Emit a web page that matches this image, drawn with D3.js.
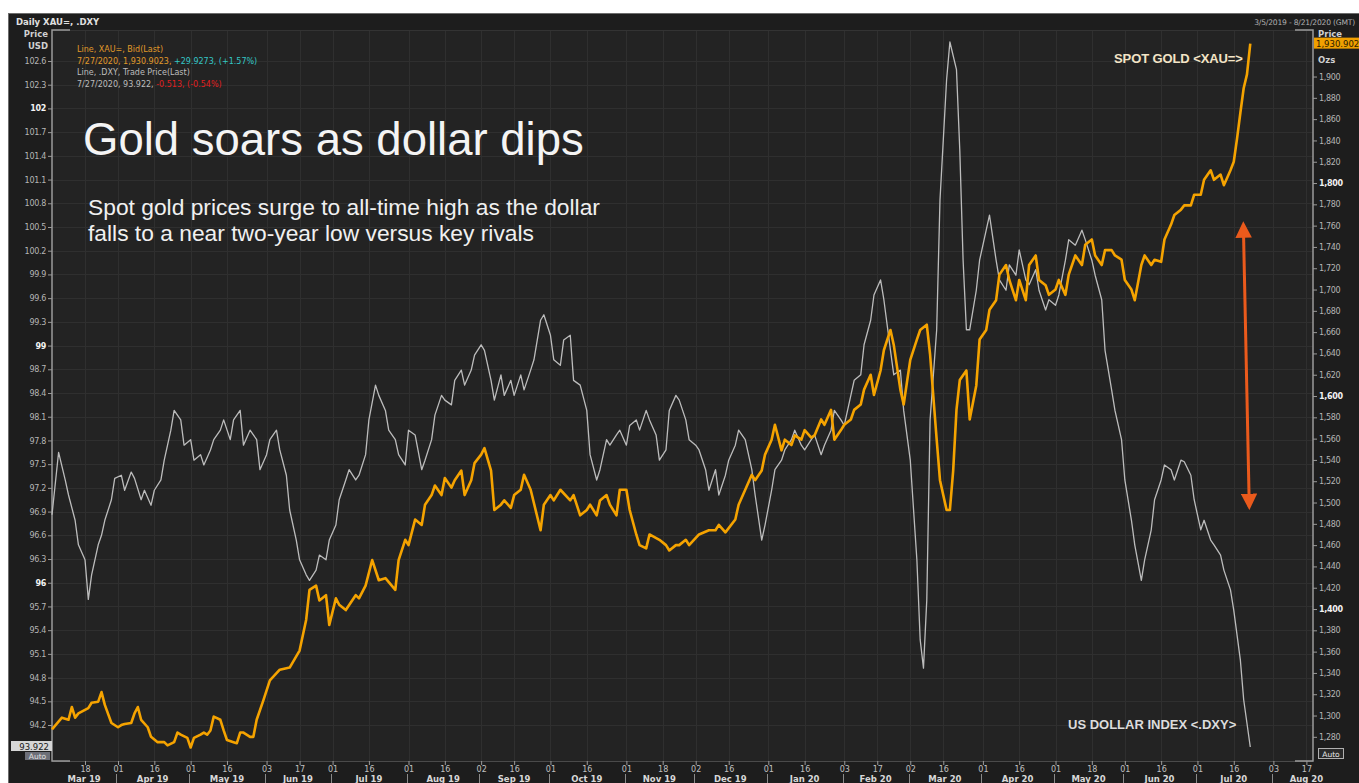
<!DOCTYPE html>
<html>
<head>
<meta charset="utf-8">
<script src="https://cdn.jsdelivr.net/npm/d3@7"></script>
<style>
  html, body { margin: 0; padding: 0; background: #fff; }
  svg { display: block; font-family: "Liberation Sans", Arial, sans-serif; }
</style>
</head>
<body>
<svg id="chart" width="1359" height="783"></svg>
<script>
// x is counted in trading sessions (weekdays) from Mon 2019-03-04
var lastSession = 382; // 2020-08-21

// spot gold, USD/oz  [session, price]
var gold = [[0,1287],[3,1298],[5,1296],[6,1308],[7,1298],[8,1302],[11,1307],[12,1312],[14,1313],[15,1322],[16,1310],[18,1293],[20,1289],[21,1291],[22,1292],[24,1293],[25,1302],[26,1308],[27,1296],[29,1289],[30,1280],[32,1275],[34,1275],[35,1272],[37,1275],[38,1284],[39,1282],[41,1279],[42,1270],[43,1279],[45,1282],[46,1284],[47,1282],[48,1286],[49,1299],[51,1296],[52,1286],[53,1277],[55,1275],[56,1274],[57,1284],[58,1284],[60,1280],[61,1280],[62,1296],[64,1314],[66,1333],[69,1343],[72,1345],[75,1361],[77,1390],[78,1418],[80,1422],[81,1408],[83,1413],[84,1385],[86,1410],[87,1404],[89,1399],[92,1413],[93,1410],[95,1422],[97,1446],[99,1427],[101,1429],[104,1418],[105,1446],[107,1465],[108,1460],[110,1484],[112,1479],[113,1498],[115,1507],[116,1516],[118,1507],[119,1523],[121,1514],[122,1521],[124,1530],[125,1507],[127,1521],[128,1537],[130,1545],[131,1551],[133,1530],[134,1493],[136,1498],[137,1502],[139,1495],[140,1507],[142,1512],[143,1526],[145,1512],[148,1474],[149,1498],[151,1507],[152,1502],[154,1512],[157,1502],[158,1507],[160,1488],[162,1493],[163,1498],[165,1488],[166,1502],[168,1507],[169,1498],[171,1488],[172,1512],[174,1512],[175,1493],[177,1470],[178,1460],[180,1457],[181,1470],[184,1465],[186,1460],[187,1455],[189,1460],[190,1460],[192,1465],[193,1460],[196,1470],[199,1474],[201,1474],[202,1479],[204,1472],[207,1484],[208,1498],[210,1512],[212,1526],[213,1521],[215,1530],[216,1545],[218,1559],[219,1573],[221,1549],[222,1559],[224,1554],[225,1563],[227,1559],[228,1568],[230,1561],[231,1563],[233,1578],[234,1573],[236,1587],[237,1559],[239,1568],[240,1573],[242,1578],[243,1587],[245,1592],[246,1606],[248,1620],[249,1601],[251,1624],[252,1643],[254,1662],[255,1648],[257,1606],[258,1592],[260,1634],[262,1653],[263,1662],[265,1667],[266,1639],[268,1559],[269,1521],[271,1493],[272,1493],[273,1530],[274,1587],[275,1615],[277,1624],[278,1578],[280,1610],[281,1653],[283,1662],[284,1681],[286,1690],[287,1714],[289,1723],[290,1709],[292,1690],[293,1709],[295,1690],[296,1723],[298,1732],[299,1709],[301,1704],[302,1695],[304,1700],[305,1709],[307,1695],[308,1714],[310,1732],[312,1723],[313,1742],[315,1747],[316,1732],[318,1723],[319,1737],[321,1737],[322,1732],[324,1728],[325,1709],[327,1700],[328,1690],[330,1723],[331,1732],[333,1723],[334,1728],[336,1726],[337,1747],[339,1761],[340,1770],[342,1775],[343,1779],[345,1779],[346,1789],[348,1789],[349,1803],[351,1812],[352,1803],[354,1808],[355,1798],[357,1812],[358,1820],[359,1842],[360,1866],[361,1889],[362,1902],[363,1930.9023]];

// US dollar index  [session, level]
var dxy = [[0,96.86],[2,97.65],[4,97.30],[5,97.11],[7,96.79],[8,96.48],[10,96.29],[11,95.79],[12,96.10],[14,96.48],[15,96.60],[16,96.79],[18,97.05],[19,97.32],[21,97.36],[22,97.17],[24,97.40],[25,97.32],[27,97.05],[28,97.17],[30,96.98],[31,97.17],[33,97.30],[34,97.55],[36,97.93],[37,98.18],[39,98.06],[40,97.74],[42,97.81],[43,97.55],[45,97.62],[46,97.49],[48,97.68],[49,97.81],[51,97.93],[52,98.06],[54,97.81],[55,98.06],[57,98.18],[58,97.74],[60,97.93],[62,97.81],[63,97.43],[65,97.62],[66,97.81],[68,97.93],[69,97.68],[71,97.36],[72,96.92],[74,96.54],[75,96.29],[77,96.10],[78,96.03],[80,96.16],[81,96.35],[83,96.29],[84,96.54],[86,96.73],[87,97.05],[89,97.30],[90,97.43],[92,97.30],[93,97.36],[95,97.62],[96,98.06],[98,98.50],[99,98.37],[101,98.18],[102,97.93],[104,97.81],[105,97.62],[107,97.49],[108,97.93],[110,97.87],[112,97.43],[113,97.55],[115,97.81],[116,98.12],[118,98.37],[119,98.31],[121,98.25],[122,98.56],[124,98.69],[125,98.50],[127,98.69],[128,98.88],[130,99.01],[131,98.94],[133,98.56],[134,98.31],[136,98.63],[137,98.37],[139,98.56],[140,98.37],[142,98.63],[143,98.44],[145,98.69],[146,98.82],[148,99.32],[149,99.39],[151,99.13],[152,98.82],[154,98.75],[155,99.07],[157,99.13],[158,98.56],[160,98.50],[162,98.18],[163,97.62],[165,97.30],[166,97.43],[168,97.81],[169,97.74],[171,97.87],[172,97.93],[174,97.74],[175,97.99],[177,98.06],[178,97.93],[180,98.18],[181,98.06],[183,97.87],[184,97.55],[186,97.68],[187,98.18],[189,98.37],[190,98.31],[192,98.06],[193,97.81],[195,97.74],[196,97.68],[198,97.43],[199,97.17],[201,97.43],[202,97.11],[204,97.36],[205,97.55],[207,97.74],[208,97.93],[210,97.81],[212,97.43],[213,97.11],[215,96.54],[216,96.73],[218,97.17],[219,97.43],[221,97.55],[222,97.68],[224,97.81],[225,97.93],[227,97.74],[228,97.68],[230,97.81],[231,97.87],[233,97.62],[234,97.74],[236,97.93],[237,98.18],[239,98.06],[240,97.99],[242,98.37],[243,98.56],[245,98.63],[246,99.01],[248,99.32],[249,99.64],[251,99.83],[252,99.58],[254,98.94],[255,98.63],[257,98.69],[258,98.18],[260,97.55],[262,96.29],[263,95.28],[264,94.92],[265,95.78],[266,98.06],[268,99.20],[269,100.84],[271,102.36],[272,102.84],[274,102.49],[275,101.47],[276,100.08],[277,99.20],[278,99.20],[280,99.70],[281,100.08],[283,100.46],[284,100.65],[286,100.08],[287,99.83],[289,99.70],[290,100.02],[292,99.89],[293,100.21],[295,99.83],[296,99.77],[298,99.96],[299,99.70],[301,99.45],[302,99.58],[304,99.51],[305,99.64],[307,100.08],[308,100.34],[310,100.27],[312,100.46],[313,100.34],[315,100.08],[316,99.89],[318,99.58],[319,98.94],[321,98.44],[322,98.18],[324,97.81],[325,97.30],[327,96.79],[328,96.48],[330,96.03],[331,96.29],[333,96.67],[334,97.05],[336,97.30],[337,97.49],[339,97.43],[340,97.30],[342,97.55],[343,97.53],[345,97.36],[346,97.05],[348,96.67],[349,96.79],[351,96.54],[352,96.48],[354,96.35],[355,96.16],[357,95.91],[358,95.65],[360,95.02],[361,94.52],[363,93.922]];

var dxyTicks = [94.2,94.5,94.8,95.1,95.4,95.7,96,96.3,96.6,96.9,97.2,97.5,97.8,98.1,98.4,98.7,99,99.3,99.6,99.9,100.2,100.5,100.8,101.1,101.4,101.7,102,102.3,102.6];
var dxyBold = [96, 99, 102];
var goldTicks = [1280,1300,1320,1340,1360,1380,1400,1420,1440,1460,1480,1500,1520,1540,1560,1580,1600,1620,1640,1660,1680,1700,1720,1740,1760,1780,1800,1820,1840,1860,1880,1900];
var goldBold = [1400, 1600, 1800];

var dayTicks = ["2019-03-18","2019-04-01","2019-04-16","2019-05-01","2019-05-16","2019-06-03","2019-06-17","2019-07-01","2019-07-16","2019-08-01","2019-08-16","2019-09-02","2019-09-16","2019-10-01","2019-10-16","2019-11-01","2019-11-18","2019-12-02","2019-12-16","2020-01-01","2020-01-16","2020-02-03","2020-02-17","2020-03-02","2020-03-16","2020-04-01","2020-04-16","2020-05-01","2020-05-18","2020-06-01","2020-06-16","2020-07-01","2020-07-16","2020-08-03","2020-08-17"];
var monthStarts = ["2019-03-01","2019-04-01","2019-05-01","2019-06-01","2019-07-01","2019-08-01","2019-09-01","2019-10-01","2019-11-01","2019-12-01","2020-01-01","2020-02-01","2020-03-01","2020-04-01","2020-05-01","2020-06-01","2020-07-01","2020-08-01","2020-09-01"];
var monthLabels = ["Mar 19","Apr 19","May 19","Jun 19","Jul 19","Aug 19","Sep 19","Oct 19","Nov 19","Dec 19","Jan 20","Feb 20","Mar 20","Apr 20","May 20","Jun 20","Jul 20","Aug 20"];

// annotation arrow, in data units (session, gold price)
var arrowEnds = [[360.9, 1761], [362.7, 1496]];

// weekdays from 2019-03-04 up to (not incl.) the date
function sessionOf(s) {
  var t0 = Date.UTC(2019, 2, 4), t = Date.parse(s + "T00:00:00Z"), n = 0;
  for (var d = t0; d < t; d += 864e5) {
    var w = new Date(d).getUTCDay();
    if (w !== 0 && w !== 6) n++;
  }
  return n;
}

var svg = d3.select("#chart");
var plot = {left: 52, right: 1313, top: 30, bottom: 761};
var small = "'DejaVu Sans', sans-serif";

// frame
svg.append("rect").attr("x", 8.5).attr("y", 13.5).attr("width", 1360).attr("height", 780)
  .attr("fill", "#1d1d1d").attr("stroke", "#6c6c6c");
svg.append("rect").attr("x", plot.left).attr("y", plot.top)
  .attr("width", plot.right - plot.left).attr("height", plot.bottom - plot.top)
  .attr("fill", "#232323");

var x = d3.scaleLinear().domain([0, lastSession]).range([plot.left, plot.right]);
var yL = d3.scaleLinear().domain([93.745, 102.992]).range([plot.bottom, plot.top]);
var yR = d3.scaleLinear().domain([1257.3, 1943.7]).range([plot.bottom, plot.top]);

// grid
var grid = svg.append("g").attr("stroke", "#2f2f2f").attr("stroke-width", 1);
grid.selectAll(".h").data(dxyTicks).enter().append("line")
  .attr("x1", plot.left).attr("x2", plot.right)
  .attr("y1", function(d) { return Math.round(yL(d)) + 0.5; })
  .attr("y2", function(d) { return Math.round(yL(d)) + 0.5; });
grid.selectAll(".v").data(dayTicks).enter().append("line")
  .attr("y1", plot.top).attr("y2", plot.bottom)
  .attr("x1", function(d) { return Math.round(x(sessionOf(d))) + 0.5; })
  .attr("x2", function(d) { return Math.round(x(sessionOf(d))) + 0.5; });

// plot borders: bright sides, faint top/bottom with corner marks
var border = svg.append("g").attr("fill", "none");
border.append("line").attr("x1", plot.left).attr("x2", plot.right)
  .attr("y1", plot.bottom + 0.5).attr("y2", plot.bottom + 0.5).attr("stroke", "#4a4a4a");
border.append("line").attr("x1", plot.left).attr("x2", plot.right)
  .attr("y1", plot.top + 0.5).attr("y2", plot.top + 0.5).attr("stroke", "#333");
border.append("path").attr("stroke", "#9a9a9a").attr("stroke-width", 1.5)
  .attr("d", "M" + (plot.left + 18) + "," + plot.top + "H" + plot.left + "V" + plot.bottom + "H" + (plot.left + 18));
border.append("path").attr("stroke", "#9a9a9a").attr("stroke-width", 1.5)
  .attr("d", "M" + (plot.right - 18) + "," + plot.top + "H" + plot.right + "V" + plot.bottom + "H" + (plot.right - 18));

// left axis (DXY)
var left = svg.append("g").attr("transform", "translate(" + plot.left + ",0)");
left.call(d3.axisLeft(yL).tickValues(dxyTicks).tickSize(4).tickPadding(2)
  .tickFormat(function(d) { return String(+d.toFixed(1)); }));
left.select(".domain").remove();
left.selectAll(".tick line").attr("stroke", "#9a9a9a");
left.selectAll(".tick text")
  .attr("fill", function(d) { return dxyBold.indexOf(d) >= 0 ? "#f2f2f2" : "#b5b5b5"; })
  .attr("font-weight", function(d) { return dxyBold.indexOf(d) >= 0 ? "bold" : "normal"; })
  .style("font-size", "8px").style("font-family", small).attr("letter-spacing", "-0.3");

// right axis (gold)
var right = svg.append("g").attr("transform", "translate(" + plot.right + ",0)");
right.call(d3.axisRight(yR).tickValues(goldTicks).tickSize(4).tickPadding(2).tickFormat(d3.format(",")));
right.select(".domain").remove();
right.selectAll(".tick line").attr("stroke", "#9a9a9a");
right.selectAll(".tick text")
  .attr("fill", function(d) { return goldBold.indexOf(d) >= 0 ? "#f2f2f2" : "#b5b5b5"; })
  .attr("font-weight", function(d) { return goldBold.indexOf(d) >= 0 ? "bold" : "normal"; })
  .style("font-size", "8px").style("font-family", small).attr("letter-spacing", "-0.3");

// bottom axis: day ticks
var bottom = svg.append("g").attr("transform", "translate(0," + plot.bottom + ")");
bottom.call(d3.axisBottom(x).tickValues(dayTicks.map(sessionOf)).tickSize(4).tickPadding(1)
  .tickFormat(function(d, i) { return dayTicks[i].slice(8); }));
bottom.select(".domain").remove();
bottom.selectAll(".tick line").attr("stroke", "#9a9a9a");
bottom.selectAll(".tick text").attr("fill", "#c0c0c0")
  .style("font-size", "8px").style("font-family", small);

// month row
var mx = monthStarts.map(function(s) { return x(sessionOf(s) - 0.5); });
var months = svg.append("g");
months.selectAll("line").data(mx.slice(1, -1)).enter().append("line")
  .attr("x1", function(d) { return Math.round(d) + 0.5; })
  .attr("x2", function(d) { return Math.round(d) + 0.5; })
  .attr("y1", 774).attr("y2", 783).attr("stroke", "#8a8a8a");
months.selectAll("text").data(monthLabels).enter().append("text")
  .attr("x", function(d, i) { return (Math.max(mx[i], plot.left) + mx[i + 1]) / 2; })
  .attr("y", 782).attr("text-anchor", "middle")
  .attr("fill", "#d8d8d8").attr("font-weight", "bold")
  .style("font-size", "8.5px").style("font-family", small)
  .text(function(d) { return d; });

// lines
var lineL = d3.line().x(function(d) { return x(d[0]); }).y(function(d) { return yL(d[1]); });
var lineR = d3.line().x(function(d) { return x(d[0]); }).y(function(d) { return yR(d[1]); });
svg.append("path").datum(dxy).attr("d", lineL)
  .attr("fill", "none").attr("stroke", "#bcbcbc").attr("stroke-width", 1.3).attr("stroke-linejoin", "round");
svg.append("path").datum(gold).attr("d", lineR)
  .attr("fill", "none").attr("stroke", "#f5a300").attr("stroke-width", 2.6).attr("stroke-linejoin", "round");

// arrow
var defs = svg.append("defs");
defs.append("marker").attr("id", "head").attr("viewBox", "0 0 10 10")
  .attr("refX", 8).attr("refY", 5).attr("markerWidth", 5.5).attr("markerHeight", 5.5)
  .attr("markerUnits", "strokeWidth").attr("orient", "auto-start-reverse")
  .append("path").attr("d", "M0,0L10,5L0,10Z").attr("fill", "#ea5a1c");
svg.append("line")
  .attr("x1", x(arrowEnds[0][0])).attr("y1", yR(arrowEnds[0][1]))
  .attr("x2", x(arrowEnds[1][0])).attr("y2", yR(arrowEnds[1][1]))
  .attr("stroke", "#ea5a1c").attr("stroke-width", 3)
  .attr("marker-start", "url(#head)").attr("marker-end", "url(#head)");

// texts
svg.append("text").attr("x", 16).attr("y", 25).attr("fill", "#e0e0e0").attr("font-weight", "bold")
  .style("font-size", "8.5px").style("font-family", small).text("Daily XAU=, .DXY");
svg.append("text").attr("x", 1355).attr("y", 25).attr("text-anchor", "end").attr("fill", "#b0b0b0")
  .style("font-size", "7.6px").style("font-family", small).attr("letter-spacing", "-0.2").text("3/5/2019 - 8/21/2020 (GMT)");
svg.append("text").attr("x", 48).attr("y", 37).attr("text-anchor", "end").attr("fill", "#d0d0d0").attr("font-weight", "bold")
  .style("font-size", "8.5px").style("font-family", small).text("Price");
svg.append("text").attr("x", 48).attr("y", 49).attr("text-anchor", "end").attr("fill", "#d0d0d0").attr("font-weight", "bold")
  .style("font-size", "8.5px").style("font-family", small).text("USD");
svg.append("text").attr("x", 1318).attr("y", 37).attr("fill", "#d0d0d0").attr("font-weight", "bold")
  .style("font-size", "8.5px").style("font-family", small).text("Price");
svg.append("text").attr("x", 1318).attr("y", 63).attr("fill", "#d0d0d0").attr("font-weight", "bold")
  .style("font-size", "8.5px").style("font-family", small).text("Ozs");

// last-value boxes
var lastGold = gold[gold.length - 1][1], lastDxy = dxy[dxy.length - 1][1];
svg.append("rect").attr("x", 1314).attr("y", yR(lastGold) - 6).attr("width", 46).attr("height", 11).attr("fill", "#f0a000");
svg.append("text").attr("x", 1316).attr("y", yR(lastGold) + 3).attr("fill", "#2a1a00")
  .style("font-size", "8.5px").style("font-family", small).text(d3.format(",.3f")(lastGold));
svg.append("rect").attr("x", 11).attr("y", yL(lastDxy) - 6).attr("width", 41).attr("height", 10).attr("fill", "#d6d6d6");
svg.append("text").attr("x", 49).attr("y", yL(lastDxy) + 2.5).attr("text-anchor", "end").attr("fill", "#1a1a1a")
  .style("font-size", "8.5px").style("font-family", small).text(String(lastDxy));
svg.append("rect").attr("x", 25).attr("y", 752).attr("width", 25).attr("height", 8).attr("fill", "#6d6f78");
svg.append("text").attr("x", 37.5).attr("y", 759).attr("text-anchor", "middle").attr("fill", "#e0e0e0")
  .style("font-size", "7.5px").style("font-family", small).text("Auto");
svg.append("rect").attr("x", 1318.5).attr("y", 748.5).attr("width", 25).attr("height", 10)
  .attr("fill", "#2a2a2a").attr("stroke", "#b0b0b0");
svg.append("text").attr("x", 1331).attr("y", 756.5).attr("text-anchor", "middle").attr("fill", "#e8e8e8")
  .style("font-size", "7.5px").style("font-family", small).text("Auto");

// legend
var legend = svg.append("text").attr("x", 77).attr("y", 52).style("font-size", "8px").style("font-family", small);
legend.append("tspan").attr("x", 77).attr("dy", 0).attr("fill", "#e09a2a").text("Line, XAU=, Bid(Last)");
legend.append("tspan").attr("x", 77).attr("dy", 11.5).attr("fill", "#e09a2a").text("7/27/2020, 1,930.9023, ");
legend.append("tspan").attr("fill", "#33c6c6").text("+29.9273, (+1.57%)");
legend.append("tspan").attr("x", 77).attr("dy", 11.5).attr("fill", "#bdbdbd").text("Line, .DXY, Trade Price(Last)");
legend.append("tspan").attr("x", 77).attr("dy", 11.5).attr("fill", "#bdbdbd").text("7/27/2020, 93.922, ");
legend.append("tspan").attr("fill", "#e01f1f").text("-0.513, (-0.54%)");

// headline
svg.append("text").attr("x", 83).attr("y", 155).attr("fill", "#f4f4f4")
  .style("font-size", "45.5px").text("Gold soars as dollar dips");
svg.append("text").attr("x", 88).attr("y", 215).attr("fill", "#f0f0f0")
  .style("font-size", "22.8px").text("Spot gold prices surge to all-time high as the dollar");
svg.append("text").attr("x", 88).attr("y", 241).attr("fill", "#f0f0f0")
  .style("font-size", "22.8px").text("falls to a near two-year low versus key rivals");

// series labels
svg.append("text").attr("x", 1114).attr("y", 63).attr("fill", "#f3e4c6").attr("font-weight", "bold")
  .style("font-size", "13px").attr("letter-spacing", "-0.1").text("SPOT GOLD <XAU=>");
svg.append("text").attr("x", 1068).attr("y", 729).attr("fill", "#dcdcdc").attr("font-weight", "bold")
  .style("font-size", "13px").text("US DOLLAR INDEX <.DXY>");
</script>
</body>
</html>
